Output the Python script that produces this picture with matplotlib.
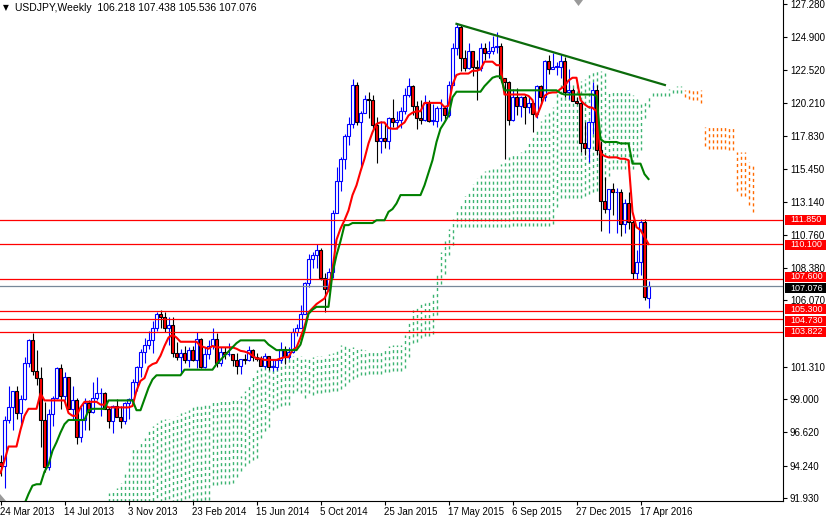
import numpy as np
import matplotlib.pyplot as plt
from matplotlib import transforms
from matplotlib.patches import Rectangle, Polygon

plt.rcParams['font.family'] = ['Liberation Sans', 'DejaVu Sans']

# weekly USDJPY candles, bar 0 = week of 24 Mar 2013
opens = [94.5, 94.2, 97.5, 98.4, 99.6, 98.0, 99.0, 101.6, 103.2, 101.0, 100.5, 97.5, 94.1, 97.9, 99.1, 101.2,
         99.2, 100.6, 98.3, 98.9, 96.3, 97.5, 98.7, 98.1, 99.1, 99.4, 99.4, 98.3, 97.4, 98.5, 97.7, 97.4,
         98.7, 99.0, 100.2, 101.3, 102.4, 102.9, 103.2, 104.1, 105.1, 104.85, 104.1, 104.3, 102.3, 102.0, 102.3, 101.8,
         102.5, 101.8, 103.3, 101.3, 102.2, 102.8, 103.3, 101.6, 102.4, 102.2, 102.2, 101.8, 101.4, 101.9, 101.8, 102.5,
         102.0, 101.9, 101.4, 102.1, 101.3, 101.3, 101.8, 102.6, 102.0, 102.4, 103.8, 104.1, 105.1, 107.3, 109.0, 109.3,
         109.7, 107.7, 106.9, 108.1, 112.3, 114.6, 116.2, 117.8, 118.7, 121.5, 118.8, 119.5, 120.5, 120.4, 118.6, 117.5,
         117.7, 117.5, 119.1, 118.8, 119.0, 119.6, 120.8, 121.4, 120.0, 119.1, 119.0, 120.2, 118.9, 118.9, 119.8, 119.8,
         119.3, 121.5, 124.1, 125.6, 123.4, 122.7, 123.9, 122.8, 122.7, 124.1, 123.8, 123.9, 124.2, 124.3, 122.0, 121.7,
         119.0, 120.6, 120.0, 120.6, 119.9, 120.2, 119.4, 121.4, 120.6, 123.2, 122.6, 122.8, 122.8, 123.2, 121.0, 121.1,
         120.3, 120.2, 117.3, 117.0, 118.8, 121.1, 116.8, 113.2, 112.6, 114.0, 113.8, 113.8, 111.5, 113.0, 111.7, 108.0,
         108.8, 111.7, 106.218]
highs = [95.0, 97.8, 99.9, 99.2, 99.9, 99.3, 102.0, 103.3, 103.7, 102.5, 101.3, 98.8, 98.3, 99.2, 101.3, 101.5,
         100.9, 100.6, 99.9, 99.1, 98.4, 99.1, 98.9, 100.2, 100.6, 99.8, 99.5, 98.4, 98.6, 99.0, 98.5, 98.8,
         99.1, 100.4, 101.4, 102.6, 103.4, 103.9, 104.6, 105.2, 105.4, 105.2, 104.9, 104.9, 103.1, 102.6, 102.8, 102.7,
         102.8, 103.8, 103.4, 102.7, 103.2, 104.1, 103.7, 102.7, 102.7, 103.0, 102.2, 102.3, 101.9, 102.2, 102.8, 102.6,
         102.3, 102.1, 102.3, 102.1, 101.8, 101.9, 103.1, 102.8, 102.7, 104.1, 104.4, 105.7, 107.4, 109.4, 109.5, 110.1,
         109.8, 108.0, 108.4, 112.5, 115.6, 116.3, 118.0, 119.2, 121.9, 121.7, 119.6, 120.8, 121.0, 120.8, 119.2, 118.9,
         118.7, 119.2, 120.5, 119.6, 119.9, 121.3, 122.0, 121.5, 120.3, 120.4, 120.8, 120.4, 120.1, 120.0, 120.5, 120.0,
         121.8, 124.5, 125.9, 125.8, 124.0, 124.5, 123.9, 123.3, 124.5, 124.5, 124.6, 125.0, 125.3, 124.5, 122.0, 121.8,
         121.2, 121.3, 120.7, 120.8, 120.6, 120.3, 121.5, 121.5, 123.3, 123.6, 123.8, 123.1, 123.7, 123.5, 122.6, 121.3,
         120.6, 120.3, 118.8, 118.9, 121.7, 121.5, 117.5, 114.9, 114.0, 114.5, 114.1, 114.0, 113.3, 113.8, 111.8, 109.7,
         111.9, 111.9, 107.438]
lows = [93.5, 92.6, 97.3, 96.8, 97.6, 97.1, 98.9, 101.3, 100.7, 100.0, 95.6, 93.8, 93.9, 97.1, 99.0, 98.3,
        98.9, 98.3, 97.6, 95.8, 95.9, 96.8, 96.8, 98.0, 98.9, 97.8, 98.3, 96.9, 96.6, 97.7, 96.9, 97.2,
        97.6, 98.8, 99.6, 100.6, 101.6, 102.6, 102.3, 103.9, 104.1, 103.8, 102.9, 102.0, 101.8, 100.8, 101.6, 101.3,
        101.7, 101.2, 101.2, 101.2, 101.9, 102.6, 101.3, 101.4, 101.9, 102.1, 101.4, 100.8, 100.8, 101.5, 101.7, 101.7,
        101.7, 101.4, 101.2, 101.1, 101.0, 101.1, 101.6, 101.5, 101.9, 102.3, 103.5, 104.1, 105.1, 107.0, 108.4, 108.4,
        107.5, 105.2, 106.7, 107.7, 112.3, 113.9, 115.5, 117.2, 118.4, 118.6, 115.6, 119.5, 119.1, 118.3, 115.9, 116.6,
        117.0, 116.9, 118.5, 118.3, 118.4, 119.4, 120.6, 119.3, 118.3, 118.7, 118.9, 118.8, 118.6, 118.5, 118.9, 118.9,
        119.2, 121.5, 123.6, 122.5, 122.5, 122.6, 122.1, 120.4, 122.5, 123.3, 123.4, 123.7, 123.8, 121.7, 116.2, 118.6,
        118.9, 119.3, 119.2, 118.7, 119.5, 118.1, 119.1, 120.1, 120.3, 122.3, 122.6, 122.2, 122.0, 120.6, 120.5, 120.3,
        120.1, 116.7, 116.5, 116.0, 118.0, 116.5, 111.0, 112.3, 110.9, 112.2, 110.9, 110.7, 110.9, 111.2, 107.6, 107.6,
        107.9, 106.1, 105.536]
closes = [94.2, 97.5, 98.4, 99.6, 98.0, 99.0, 101.6, 103.2, 101.0, 100.5, 97.5, 94.1, 97.9, 99.1, 101.2, 99.2,
          100.6, 98.3, 98.9, 96.3, 97.5, 98.7, 98.1, 99.1, 99.4, 99.4, 98.3, 97.4, 98.5, 97.7, 97.4, 98.7,
          99.0, 100.2, 101.3, 102.4, 102.9, 103.2, 104.1, 105.1, 104.85, 104.1, 104.3, 102.3, 102.0, 102.3, 101.8, 102.5,
          101.8, 103.3, 101.3, 102.2, 102.8, 103.3, 101.6, 102.4, 102.2, 102.2, 101.8, 101.4, 101.9, 101.8, 102.5, 102.0,
          101.9, 101.4, 102.1, 101.3, 101.3, 101.8, 102.6, 102.0, 102.4, 103.8, 104.1, 105.1, 107.3, 109.0, 109.3, 109.7,
          107.7, 106.9, 108.1, 112.3, 114.6, 116.2, 117.8, 118.7, 121.5, 118.8, 119.5, 120.5, 120.4, 118.6, 117.5, 117.7,
          117.5, 119.1, 118.8, 119.0, 119.6, 120.8, 121.4, 120.0, 119.1, 119.0, 120.2, 118.9, 118.9, 119.8, 119.8, 119.3,
          121.5, 124.1, 125.6, 123.4, 122.7, 123.9, 122.8, 122.7, 124.1, 123.8, 123.9, 124.2, 124.3, 122.0, 121.7, 119.0,
          120.6, 120.0, 120.6, 119.9, 120.2, 119.4, 121.4, 120.6, 123.2, 122.6, 122.8, 122.8, 123.2, 121.0, 121.1, 120.3,
          120.2, 117.3, 117.0, 118.8, 121.1, 116.8, 113.2, 112.6, 114.0, 113.8, 113.8, 111.5, 113.0, 111.7, 108.0, 108.8,
          111.7, 106.3, 107.076]

# Ichimoku lines
tenkan = [93.7, 94.6, 95.6, 95.6, 95.6, 96.8, 97.8, 98.3, 98.3, 98.3, 99.4, 98.9, 98.9, 98.9, 98.9, 98.9,
          98.9, 98.0, 97.8, 97.8, 98.4, 98.8, 98.8, 98.8, 98.8, 98.6, 98.6, 98.4, 98.4, 98.4, 98.4, 98.4,
          98.4, 98.5, 99.6, 100.3, 100.5, 101.3, 101.5, 101.6, 102.1, 102.8, 103.4, 103.6, 103.4, 103.1, 103.1, 103.1,
          103.1, 103.1, 102.8, 102.7, 102.6, 102.8, 102.7, 102.7, 102.7, 102.7, 102.7, 102.6, 102.45, 102.4, 102.3, 102.1,
          101.9, 101.9, 101.8, 101.8, 101.8, 101.8, 101.9, 102.0, 102.0, 102.5, 102.7, 103.4, 104.2, 105.2, 105.5, 105.8,
          106.0, 106.2, 106.8, 108.3, 110.4, 111.2, 111.8, 112.5, 113.6, 114.3, 115.3, 116.2, 117.3, 118.1, 118.7, 118.8,
          118.8, 118.4, 118.35, 118.35, 118.6, 118.8, 119.3, 119.5, 119.6, 119.6, 120.2, 120.2, 120.2, 120.2, 120.2, 119.9,
          120.0, 121.5, 122.2, 122.3, 122.3, 122.3, 122.5, 122.5, 122.6, 123.15, 123.15, 123.15, 122.9, 122.9, 120.8, 120.8,
          120.8, 120.8, 120.8, 120.8, 120.7, 120.4, 119.2, 119.9, 120.7, 120.9, 120.95, 120.95, 121.2, 121.4, 121.8, 122.0,
          122.0, 120.4, 120.1, 119.9, 119.85, 119.6, 116.6, 116.4, 116.3, 116.3, 116.3, 116.2, 116.2, 116.1, 112.4, 111.3,
          111.1, 110.6, 110.1]
kijun = [87.5, 87.9, 88.6, 89.2, 89.8, 90.6, 91.5, 92.2, 92.8, 92.9, 92.9, 93.8, 94.3, 95.3, 95.9, 96.6,
         97.2, 97.5, 97.5, 97.5, 97.5, 97.5, 98.2, 98.3, 98.3, 98.3, 98.3, 98.9, 98.9, 98.9, 98.9, 98.9,
         98.9, 98.9, 98.2, 98.2, 99.0, 99.8, 100.4, 100.7, 100.7, 100.7, 100.7, 100.7, 100.7, 100.7, 101.1, 101.1,
         101.1, 101.1, 101.1, 101.1, 101.1, 101.1, 101.5, 101.8, 102.1, 102.4, 102.7, 103.0, 103.2, 103.2, 103.2, 103.2,
         103.2, 103.2, 103.2, 102.9, 102.7, 102.5, 102.5, 102.5, 102.5, 102.5, 102.5, 102.9, 103.9, 105.1, 105.4, 105.6,
         105.6, 105.6, 105.6, 108.0, 109.3, 110.3, 111.45, 111.45, 111.6, 111.6, 111.6, 111.6, 111.6, 111.6, 111.8, 111.8,
         111.8, 112.4, 112.6, 113.0, 113.6, 113.6, 113.6, 113.6, 113.6, 113.6, 114.3, 115.2, 116.1, 117.4, 118.35, 118.8,
         119.3, 120.6, 121.0, 121.0, 121.0, 121.0, 121.0, 121.0, 121.0, 121.4, 121.7, 122.0, 122.1, 122.1, 121.1, 121.1,
         121.1, 121.1, 121.1, 121.1, 121.1, 121.1, 121.1, 121.1, 121.1, 121.1, 121.1, 121.1, 120.9, 120.8, 120.8, 120.8,
         120.8, 120.8, 120.8, 120.8, 120.8, 120.7, 117.6, 117.4, 117.4, 117.4, 117.4, 117.3, 117.3, 117.3, 115.85, 115.85,
         115.85, 115.1, 114.75]

# cloud, first column at bar 27, runs 26 bars past the last candle
cloud_start = 27
span_a = [92.3, 92.4, 92.6, 93.0, 93.7, 94.6, 95.5, 95.6, 95.9, 96.2, 96.8, 97.1, 97.3, 97.5, 97.6, 97.6,
          97.6, 97.8, 98.0, 98.1, 98.2, 98.6, 98.6, 98.6, 98.6, 98.7, 98.85, 98.85, 98.85, 98.85, 98.85, 98.9,
          99.0, 99.2, 99.6, 100.1, 100.6, 101.1, 101.2, 101.4, 101.6, 101.8, 101.9, 102.1, 102.1, 102.1, 102.1, 102.1,
          102.1, 101.9, 101.9, 102.0, 102.1, 102.1, 102.1, 102.2, 102.3, 102.6, 102.85, 102.85, 102.8, 102.7, 102.6, 102.6,
          102.5, 102.5, 102.4, 102.4, 102.4, 102.6, 102.8, 102.85, 102.85, 102.85, 103.6, 104.6, 105.4, 105.6, 105.8, 105.9,
          106.1, 106.6, 107.9, 109.5, 110.3, 111.2, 111.9, 112.6, 113.0, 113.5, 113.9, 114.4, 114.8, 115.2, 115.3, 115.4,
          115.5, 115.6, 115.8, 116.1, 116.3, 116.5, 116.6, 116.7, 116.8, 117.3, 117.8, 118.3, 118.9, 119.3, 119.5, 119.9,
          120.9, 121.5, 121.6, 121.7, 121.7, 121.7, 121.8, 121.9, 122.3, 122.4, 122.6, 122.5, 122.5, 121.0, 121.0, 121.0,
          121.0, 120.9, 120.9, 120.8, 120.6, 120.2, 120.4, 120.8, 120.9, 121.0, 121.0, 121.1, 121.2, 121.3, 121.4, 121.4,
          120.6, 120.5, 120.4, 120.4, 120.2, 117.1, 116.9, 116.9, 116.9, 116.9, 116.9, 116.8, 116.8, 113.9, 113.5, 113.5,
          112.9, 112.4]
span_b = [88.6, 88.6, 88.6, 88.8, 89.0, 89.2, 89.4, 89.6, 89.8, 90.0, 90.2, 90.4, 90.6, 90.8, 90.9, 91.0,
          91.1, 91.2, 91.3, 91.4, 91.5, 91.6, 91.7, 91.7, 91.8, 91.8, 92.85, 92.85, 92.9, 92.9, 92.9, 93.0,
          93.4, 93.85, 94.2, 94.4, 94.6, 94.8, 96.2, 96.7, 97.0, 98.2, 98.35, 98.5, 98.6, 98.6, 99.4, 99.6,
          99.4, 99.1, 99.4, 99.3, 99.4, 99.4, 99.5, 99.5, 99.6, 99.6, 99.7, 99.9, 100.2, 100.4, 100.6, 100.7,
          100.7, 100.8, 100.8, 100.8, 100.8, 100.9, 100.9, 101.0, 101.0, 101.0, 101.2, 102.0, 103.0, 103.05, 103.35, 103.5,
          103.5, 103.65, 105.05, 107.2, 107.95, 109.3, 110.0, 111.3, 111.3, 111.3, 111.3, 111.3, 111.3, 111.3, 111.35, 111.35,
          111.35, 111.35, 111.35, 111.35, 111.35, 111.4, 111.4, 111.4, 111.4, 111.4, 111.4, 111.4, 111.4, 111.4, 111.4, 111.5,
          112.75, 113.4, 113.4, 113.4, 113.4, 113.4, 113.4, 113.5, 113.7, 113.8, 113.9, 114.1, 114.7, 115.0, 115.5, 115.5,
          115.5, 115.5, 115.5, 115.5, 116.3, 116.8, 119.1, 119.9, 120.7, 120.7, 120.7, 120.7, 120.7, 120.9, 120.9, 120.9,
          121.1, 121.1, 121.1, 121.1, 121.1, 118.5, 118.5, 118.5, 118.5, 118.5, 118.5, 118.5, 118.5, 116.7, 116.7, 116.7,
          116.0, 115.7]

date_bars = [0, 16, 32, 48, 64, 80, 96, 112, 128, 144, 160]
date_labels = ['24 Mar 2013', '14 Jul 2013', '3 Nov 2013', '23 Feb 2014', '15 Jun 2014', '5 Oct 2014',
               '25 Jan 2015', '17 May 2015', '6 Sep 2015', '27 Dec 2015', '17 Apr 2016']
price_ticks = [127.28, 124.90, 122.52, 120.21, 117.83, 115.45, 113.14, 110.76, 108.38, 106.07,
               101.31, 99.00, 96.62, 94.24, 91.93]
levels = [111.85, 110.10, 107.60, 105.30, 104.73, 103.822]
last_price = 107.076
trend_bars = [114.0, 166.1]
trend_prices = [125.86, 121.48]

W, H = 826, 519
PX = 13.97  # pixels per yen on the price scale
fig = plt.figure(figsize=(W / 100, H / 100), dpi=100)
ax = fig.add_axes([0, 18 / H, 783 / W, 501 / H])

# --- cloud -----------------------------------------------------------------
a = np.array(span_a)
b = np.array(span_b)
cx = np.arange(cloud_start, cloud_start + len(a))
up = a >= b
lo, hi = np.minimum(a, b), np.maximum(a, b)
ax.vlines(cx[up], lo[up], hi[up], colors='#3cb371', lw=1.0, linestyles=[(0, (2.2, 2.2))], zorder=1)
ax.vlines(cx[~up], lo[~up], hi[~up], colors='#ff6a00', lw=1.0, linestyles=[(0, (2.2, 2.2))], zorder=1)

# --- candles ---------------------------------------------------------------
o, h, l, c = map(np.array, (opens, highs, lows, closes))
x = np.arange(len(o))
bull = c >= o
body = np.maximum(np.abs(c - o), 0.05)
bottom = np.minimum(o, c)
ax.vlines(x[bull], l[bull], h[bull], colors='#0000ff', lw=0.8, zorder=3)
ax.vlines(x[~bull], l[~bull], h[~bull], colors='black', lw=0.8, zorder=3)
ax.bar(x[bull], body[bull], bottom=bottom[bull], width=0.55, color='white',
       edgecolor='#0000ff', lw=0.8, zorder=4)
ax.bar(x[~bull], body[~bull], bottom=bottom[~bull], width=0.55, color='#ff0000',
       edgecolor='black', lw=0.8, zorder=4)

# --- levels, indicator lines, trendline ------------------------------------
for lv in levels:
    ax.axhline(lv, color='#ff0000', lw=0.9, zorder=5)
ax.axhline(last_price, color='#778899', lw=0.9, zorder=5)
ax.plot(x, tenkan, color='#ff0000', lw=1.5, zorder=6)
ax.plot(x, kijun, color='#008000', lw=1.5, zorder=6)
ax.plot(trend_bars, trend_prices, color='#0b6b0b', lw=1.6, zorder=7)

# --- axes ------------------------------------------------------------------
ax.set_xlim(-0.125, 195.625)
ax.set_ylim(91.70, 127.566)
for s in ['top', 'left']:
    ax.spines[s].set_visible(False)
for s in ['right', 'bottom']:
    ax.spines[s].set_linewidth(0.8)
ax.yaxis.tick_right()
ax.set_yticks(price_ticks, [f'{v:.3f}' for v in price_ticks])
ax.tick_params(axis='y', direction='out', length=3, width=0.8, pad=2, labelsize=7)
ax.set_xticks(date_bars, date_labels)
for t in ax.get_xticklabels():
    t.set_ha('left')
ax.tick_params(axis='x', direction='out', length=3, width=0.8, pad=1, labelsize=7)

# price boxes on the right scale (nudged a pixel or two where they touch)
nudge = {111.85: 0, 110.10: -1, 107.60: 2, 105.30: 1.8, 104.73: -1.8, 103.822: 0}
trans = transforms.blended_transform_factory(fig.transFigure, ax.transData)
box_h = 10 / PX
boxes = [(v, '#ff0000', nudge[v]) for v in levels] + [(last_price, 'black', -2)]
for lv, fc, dy in boxes:
    yc = lv + dy / PX
    ax.add_patch(Rectangle((785 / W, yc - box_h / 2), 1 - 785 / W, box_h, transform=trans,
                           facecolor=fc, edgecolor='none', clip_on=False, zorder=10))
    ax.text(790 / W, yc, f'{lv:.3f}', transform=trans, color='white', fontsize=6.5,
            va='center', ha='left', clip_on=False, zorder=11)
ax.set_xlim(-0.125, 195.625)
ax.set_ylim(91.70, 127.566)

# header and small markers
fig.text(3 / W, 1 - 8 / H, '\u25bc', fontsize=5.5, va='center', ha='left', family='DejaVu Sans')
fig.text(15 / W, 1 - 8 / H, 'USDJPY,Weekly  106.218 107.438 105.536 107.076', fontsize=7.5,
         va='center', ha='left')
fig.patches.append(Polygon([[574 / W, 1.0], [583 / W, 1.0], [578.5 / W, 1 - 6 / H]], closed=True,
                           transform=fig.transFigure, facecolor='#9a9a9a', edgecolor='none'))
fig.patches.append(Polygon([[0, 1 - 494 / H], [0, 1 - 501 / H], [6 / W, 1 - 501 / H]], closed=True,
                           transform=fig.transFigure, facecolor='#9a9a9a', edgecolor='none'))

fig.savefig('out.png', dpi=100)
